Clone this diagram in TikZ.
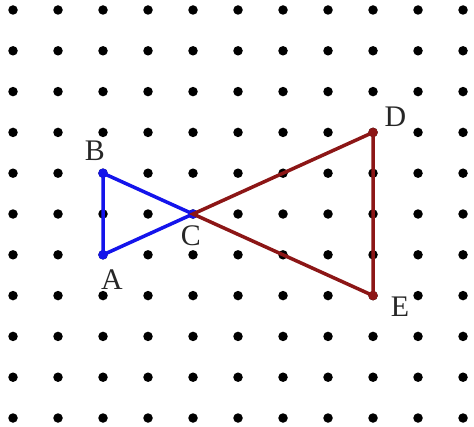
\documentclass[tikz,border=0pt]{standalone}
\usepackage{fontspec}
\setmainfont{Liberation Serif}
\usepackage{xcolor}
\usepackage{tikz}
\usetikzlibrary{positioning, calc}
\definecolor{darkred}{RGB}{140,22,22}
\definecolor{pureblue}{RGB}{20,20,235}

\begin{document}
\begin{tikzpicture}[x=0.9cm, y=0.816cm, line width=2pt,
  griddot/.style={circle, fill=black, inner sep=0pt, minimum size=0.19cm},
  vertex/.style={circle, inner sep=0pt, minimum size=0.19cm},
  lbl/.style={font=\fontsize{17}{20}\selectfont, text=black!85, inner sep=1pt}]

\useasboundingbox (-0.289,-0.22) rectangle (10.244,10.245);

% Grid of dots
\foreach \i in {0,...,10}
  \foreach \j in {0,...,10}
    \node[griddot] (g\i-\j) at (\i,\j) {};

% Define nodes
\node[vertex, fill=pureblue] (A) at (2,4) {};
\node[vertex, fill=pureblue] (B) at (2,6) {};
\node[vertex, fill=pureblue] (C) at (4,5) {};
\node[vertex, fill=darkred] (D) at (8,7) {};
\node[vertex, fill=darkred] (E) at (8,3) {};

% Draw the small triangle
\draw[pureblue] (A.center) -- (B.center) -- (C.center) -- cycle;

% Draw the large triangle
\draw[darkred] (C.center) -- (D.center) -- (E.center) -- cycle;

% Labels
\node[lbl] (labA) at ($(A)+(0.2,-0.62)$) {A};
\node[lbl] (labB) at ($(B)+(-0.18,0.56)$) {B};
\node[lbl] (labC) at ($(C)+(-0.05,-0.53)$) {C};
\node[lbl] (labD) at ($(D)+(0.5,0.38)$) {D};
\node[lbl] (labE) at ($(E)+(0.6,-0.27)$) {E};

\end{tikzpicture}
\end{document}
